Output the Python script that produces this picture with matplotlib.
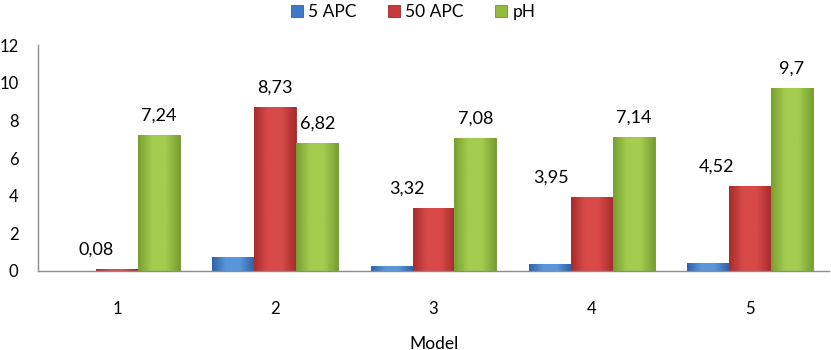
import numpy as np
import matplotlib.pyplot as plt
from matplotlib.colors import LinearSegmentedColormap

plt.rcParams['font.family'] = ['Lato', 'DejaVu Sans']

models = ['1', '2', '3', '4', '5']
apc5 = [0.02, 0.75, 0.24, 0.36, 0.40]
apc50 = [0.08, 8.73, 3.32, 3.95, 4.52]
ph = [7.24, 6.82, 7.08, 7.14, 9.7]
apc50_labels = ['0,08', '8,73', '3,32', '3,95', '4,52']
ph_labels = ['7,24', '6,82', '7,08', '7,14', '9,7']

fig = plt.figure(figsize=(8.31, 3.5), dpi=100)
ax = fig.add_axes([0.0457, 0.226, 0.952, 0.645])

x = np.arange(len(models))
w = 0.265

b1 = ax.bar(x - w, apc5, w, color='#3f7ac6', edgecolor='#2f5f9e', linewidth=0.6, label='5 APC')
b2 = ax.bar(x, apc50, w, color='#c93b3b', edgecolor='#9c2a2a', linewidth=0.6, label='50 APC')
b3 = ax.bar(x + w, ph, w, color='#93bc3f', edgecolor='#6f9230', linewidth=0.6, label='pH')

# horizontal shading like the Excel bevelled bars
shades = [('#2f63a8', '#5a96dc', '#2f63a8'),
          ('#a82c2c', '#d84a4a', '#a82c2c'),
          ('#78a030', '#a4cc50', '#78a030')]
grad = np.linspace(0, 1, 64).reshape(1, -1)
for bars, cols in zip([b1, b2, b3], shades):
    cmap = LinearSegmentedColormap.from_list('g', [cols[0], cols[1], cols[1], cols[2]])
    for p in bars:
        x0, y0 = p.get_x(), p.get_y()
        im = ax.imshow(grad, cmap=cmap, aspect='auto', interpolation='bicubic',
                       extent=[x0, x0 + p.get_width(), y0, y0 + p.get_height()], zorder=1.5)
        im.set_clip_path(p)

# red labels were nudged left in the original
red_dx = [-15, 0, -19, -29, -24]
for i, (v, t) in enumerate(zip(apc50, apc50_labels)):
    ax.annotate(t, (x[i], v), xytext=(red_dx[i], 14), textcoords='offset points',
                ha='center', va='center', fontsize=13)
for i, (v, t) in enumerate(zip(ph, ph_labels)):
    ax.annotate(t, (x[i] + w, v), xytext=(0, 14), textcoords='offset points',
                ha='center', va='center', fontsize=13)

ax.set_xlim(-0.5, 4.5)
ax.set_ylim(0, 12)
ax.set_yticks(range(0, 13, 2))
ax.set_xticks(x)
ax.set_xticklabels(models)
ax.tick_params(axis='both', length=0, labelsize=12)
ax.tick_params(axis='y', pad=14)
ax.tick_params(axis='x', pad=22)
for s in ['top', 'right']:
    ax.spines[s].set_visible(False)
for s in ['left', 'bottom']:
    ax.spines[s].set_color('#8c8c8c')
    ax.spines[s].set_linewidth(1.0)
    ax.spines[s].set_zorder(3)
ax.set_xlabel('Model', fontsize=12.5, labelpad=13)

fig.legend(handles=[b1, b2, b3], loc='center', bbox_to_anchor=(0.497, 0.965), ncol=3,
           frameon=False, fontsize=12.5, handlelength=0.7, handleheight=0.7,
           handletextpad=0.3, columnspacing=1.8)

fig.savefig('out.png', dpi=100)
